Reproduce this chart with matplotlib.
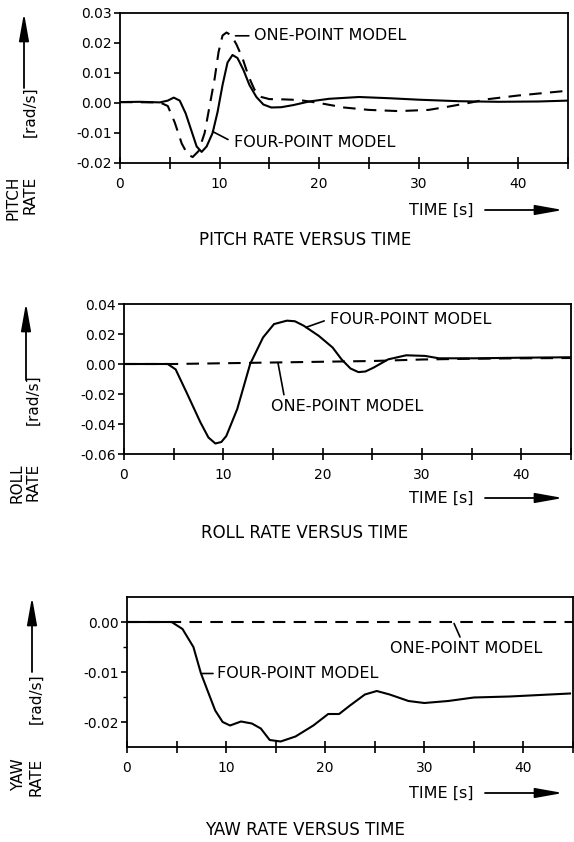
import matplotlib
matplotlib.use("Agg")
import matplotlib.pyplot as plt
from matplotlib.ticker import FixedLocator

# ---------------- data ----------------
# Pitch rate
pitch_t4 = [0, 2, 4, 4.8, 5.4, 6.0, 6.6, 7.2, 7.7, 8.2, 8.7, 9.3, 9.8, 10.3, 10.8, 11.3,
            11.8, 12.4, 13.0, 13.7, 14.4, 15.2, 16.2, 17.4, 19, 21, 24, 27, 30, 34, 38, 42, 45]
pitch_v4 = [0.0003, 0.0004, 0.0002, 0.0008, 0.0018, 0.0008, -0.0035, -0.0095, -0.0145, -0.0163,
            -0.0145, -0.0100, -0.0030, 0.0060, 0.0135, 0.0160, 0.0150, 0.0110, 0.0060, 0.0020,
            -0.0005, -0.0015, -0.0014, -0.0007, 0.0005, 0.0014, 0.0020, 0.0016, 0.0011, 0.0006,
            0.0004, 0.0005, 0.0008]
pitch_t1 = [0, 4.0, 4.8, 5.5, 6.2, 6.8, 7.3, 7.9, 8.5, 9.0, 9.5, 9.9, 10.3, 10.7, 11.2, 11.7,
            12.3, 12.9, 13.5, 14.2, 15.0, 16.5, 18, 20, 22.5, 25, 28, 31, 33, 35, 37, 40, 42.5, 45]
pitch_v1 = [0.0003, 0.0002, -0.0010, -0.0065, -0.0135, -0.0172, -0.0180, -0.0160, -0.0100,
            -0.0010, 0.0080, 0.0170, 0.0225, 0.0235, 0.0225, 0.0195, 0.0150, 0.0090, 0.0045,
            0.0020, 0.0013, 0.0012, 0.0010, 0.0000, -0.0015, -0.0023, -0.0027, -0.0023,
            -0.0012, 0.0000, 0.0013, 0.0025, 0.0033, 0.0041]

# Roll rate
roll_t4 = [0, 2, 4.4, 5.2, 6.3, 7.7, 8.5, 9.2, 9.8, 10.3, 11.4, 12.7, 14.0, 15.1, 16.4, 17.2,
           18.1, 19.6, 21.0, 21.9, 22.8, 23.6, 24.3, 25.1, 26.6, 28.4, 30.3, 31.7, 35.4, 40, 45]
roll_v4 = [0.0, 0.0, 0.0, -0.0036, -0.019, -0.039, -0.049, -0.053, -0.052, -0.048, -0.030,
           0.000, 0.0177, 0.0266, 0.0289, 0.0285, 0.0255, 0.0188, 0.011, 0.0031, -0.0030,
           -0.0054, -0.0050, -0.0025, 0.0031, 0.0058, 0.0054, 0.0038, 0.0038, 0.0042, 0.0045]
roll_t1 = [0, 5, 10, 15, 20, 25, 30, 35, 40, 45]
roll_v1 = [0.0, 0.0, 0.0005, 0.001, 0.0015, 0.002, 0.003, 0.0035, 0.0038, 0.004]

# Yaw rate
yaw_t4 = [0, 2, 4.5, 5.6, 6.7, 7.45, 8.2, 8.9, 9.65, 10.4, 11.5, 12.6, 13.5, 14.4, 15.5, 17.0,
          18.8, 20.3, 21.4, 22.5, 24.0, 25.2, 26.5, 28.4, 30.0, 32.4, 35.0, 38.6, 44.7]
yaw_v4 = [0.0, 0.0, 0.0, -0.0014, -0.0050, -0.0102, -0.0141, -0.0177, -0.0200, -0.0207,
          -0.0199, -0.0203, -0.0213, -0.0236, -0.0239, -0.0229, -0.0207, -0.0184, -0.0184,
          -0.0167, -0.0145, -0.0138, -0.0145, -0.0158, -0.0162, -0.0158, -0.0151, -0.0149,
          -0.0143]
yaw_t1 = [0, 45]
yaw_v1 = [0.0, 0.0]

# ticks / labels
x_major = [0, 5, 10, 15, 20, 25, 30, 35, 40, 45]
x_labels = ["0", "", "10", "", "20", "", "30", "", "40", ""]
pitch_yticks = [0.03, 0.02, 0.01, 0.00, -0.01, -0.02]
pitch_ylabels = ["0.03", "0.02", "0.01", "0.00", "-0.01", "-0.02"]
roll_yticks = [0.04, 0.02, 0.00, -0.02, -0.04, -0.06]
roll_ylabels = ["0.04", "0.02", "0.00", "-0.02", "-0.04", "-0.06"]
yaw_yticks = [0.00, -0.01, -0.02]
yaw_ylabels = ["0.00", "-0.01", "-0.02"]
yaw_yminor = [-0.005, -0.015]

W, H = 574, 842
fig = plt.figure(figsize=(W / 100, H / 100), dpi=100)
fig.patch.set_facecolor("white")
FONT = "DejaVu Sans"
TICKFS = 10
LABFS = 11.5
SIDEFS = 11

def fx(px):
    return px / W

def fy(py):
    return 1 - py / H

def make_axes(left, right, top, bottom):
    return fig.add_axes([fx(left), fy(bottom), (right - left) / W, (bottom - top) / H])

def style(ax, xlim, ylim, yt, ylab, minor=None):
    ax.set_xlim(*xlim)
    ax.set_ylim(*ylim)
    ax.set_xticks(x_major)
    ax.set_xticklabels(x_labels, fontsize=TICKFS, family=FONT)
    ax.set_yticks(yt)
    ax.set_yticklabels(ylab, fontsize=TICKFS, family=FONT)
    if minor:
        ax.yaxis.set_minor_locator(FixedLocator(minor))
        ax.tick_params(axis="y", which="minor", direction="out", length=3, width=1.0)
    ax.tick_params(axis="x", which="major", direction="inout", length=8, width=1.2, pad=6)
    ax.tick_params(axis="y", which="major", direction="out", length=4, width=1.2, pad=2)
    for s in ax.spines.values():
        s.set_linewidth(1.3)

LW = 1.5
DASH = (6, 4)

def side_labels(word, col1, col2, top_y, unit_cy, arrow_x, arr_top, arr_bot,
                title, title_y, time_y):
    fig.text(fx(col1), fy(top_y), word, rotation=90, ha="center", va="top",
             fontsize=SIDEFS, family=FONT)
    fig.text(fx(col2), fy(top_y), "RATE", rotation=90, ha="center", va="top",
             fontsize=SIDEFS, family=FONT)
    fig.text(fx(col2), fy(unit_cy), "[rad/s]", rotation=90, ha="center", va="center",
             fontsize=SIDEFS, family=FONT)
    fig.add_artist(matplotlib.patches.FancyArrowPatch(
        (fx(arrow_x), fy(arr_bot)), (fx(arrow_x), fy(arr_top)), transform=fig.transFigure,
        arrowstyle="-|>,head_length=1.4,head_width=0.25", mutation_scale=12,
        lw=1.3, color="black", shrinkA=0, shrinkB=0))
    fig.text(fx(441), fy(time_y), "TIME [s]", ha="center", va="center",
             fontsize=LABFS, family=FONT)
    fig.add_artist(matplotlib.patches.FancyArrowPatch(
        (fx(485), fy(time_y)), (fx(563), fy(time_y)), transform=fig.transFigure,
        arrowstyle="-|>,head_length=1.4,head_width=0.25", mutation_scale=12,
        lw=1.3, color="black", shrinkA=0, shrinkB=0))
    fig.text(fx(305), fy(title_y), title, ha="center", va="center",
             fontsize=12, family=FONT)

# ---------------- panel 1 : pitch ----------------
ax1 = make_axes(120, 568, 13, 163)
ax1.plot(pitch_t4, pitch_v4, color="black", lw=LW)
ax1.plot(pitch_t1, pitch_v1, color="black", lw=LW, dashes=DASH)
style(ax1, (0, 45), (-0.02, 0.03), pitch_yticks, pitch_ylabels)
ax1.annotate("ONE-POINT MODEL", xy=(11.6, 0.0224), xytext=(13.5, 0.0224),
             ha="left", va="center", fontsize=LABFS, family=FONT,
             arrowprops=dict(arrowstyle="-", lw=1.2, color="black", relpos=(0, 0.5),
                             shrinkA=2, shrinkB=0))
ax1.annotate("FOUR-POINT MODEL", xy=(9.3, -0.0095), xytext=(11.5, -0.0133),
             ha="left", va="center", fontsize=LABFS, family=FONT,
             arrowprops=dict(arrowstyle="-", lw=1.2, color="black", relpos=(0, 0.5),
                             shrinkA=3, shrinkB=0))
side_labels("PITCH", 13, 30, 176, 112, 24, 13, 88,
            "PITCH RATE VERSUS TIME", 240, 210)

# ---------------- panel 2 : roll ----------------
ax2 = make_axes(124, 571, 304, 454)
ax2.plot(roll_t4, roll_v4, color="black", lw=LW)
ax2.plot(roll_t1, roll_v1, color="black", lw=LW, dashes=DASH)
style(ax2, (0, 45), (-0.06, 0.04), roll_yticks, roll_ylabels)
ax2.annotate("FOUR-POINT MODEL", xy=(18.3, 0.0244), xytext=(20.7, 0.030),
             ha="left", va="center", fontsize=LABFS, family=FONT,
             arrowprops=dict(arrowstyle="-", lw=1.2, color="black", relpos=(0, 0.5),
                             shrinkA=2, shrinkB=0))
ax2.annotate("", xy=(15.5, 0.0008), xytext=(16.1, -0.0205),
             arrowprops=dict(arrowstyle="-", lw=1.2, color="black", shrinkA=0, shrinkB=0))
ax2.text(14.8, -0.0282, "ONE-POINT MODEL", ha="left", va="center",
         fontsize=LABFS, family=FONT)
side_labels("ROLL", 17, 33, 463, 400, 26, 303, 380,
            "ROLL RATE VERSUS TIME", 533, 498)

# ---------------- panel 3 : yaw ----------------
ax3 = make_axes(127, 573, 597, 747)
ax3.plot(yaw_t4, yaw_v4, color="black", lw=LW)
ax3.plot(yaw_t1, yaw_v1, color="black", lw=LW, dashes=DASH)
style(ax3, (0, 44.7), (-0.025, 0.005), yaw_yticks, yaw_ylabels, minor=yaw_yminor)
ax3.annotate("FOUR-POINT MODEL", xy=(7.6, -0.0103), xytext=(9.1, -0.0103),
             ha="left", va="center", fontsize=LABFS, family=FONT,
             arrowprops=dict(arrowstyle="-", lw=1.2, color="black", relpos=(0, 0.5),
                             shrinkA=1, shrinkB=0))
ax3.annotate("", xy=(33.0, -0.0003), xytext=(33.6, -0.0030),
             arrowprops=dict(arrowstyle="-", lw=1.2, color="black", shrinkA=0, shrinkB=0))
ax3.text(26.5, -0.0053, "ONE-POINT MODEL", ha="left", va="center",
         fontsize=LABFS, family=FONT)
side_labels("YAW", 19, 36, 758, 699, 32, 597, 672,
            "YAW RATE VERSUS TIME", 830, 793)

fig.savefig("out.png", dpi=100, facecolor="white")
